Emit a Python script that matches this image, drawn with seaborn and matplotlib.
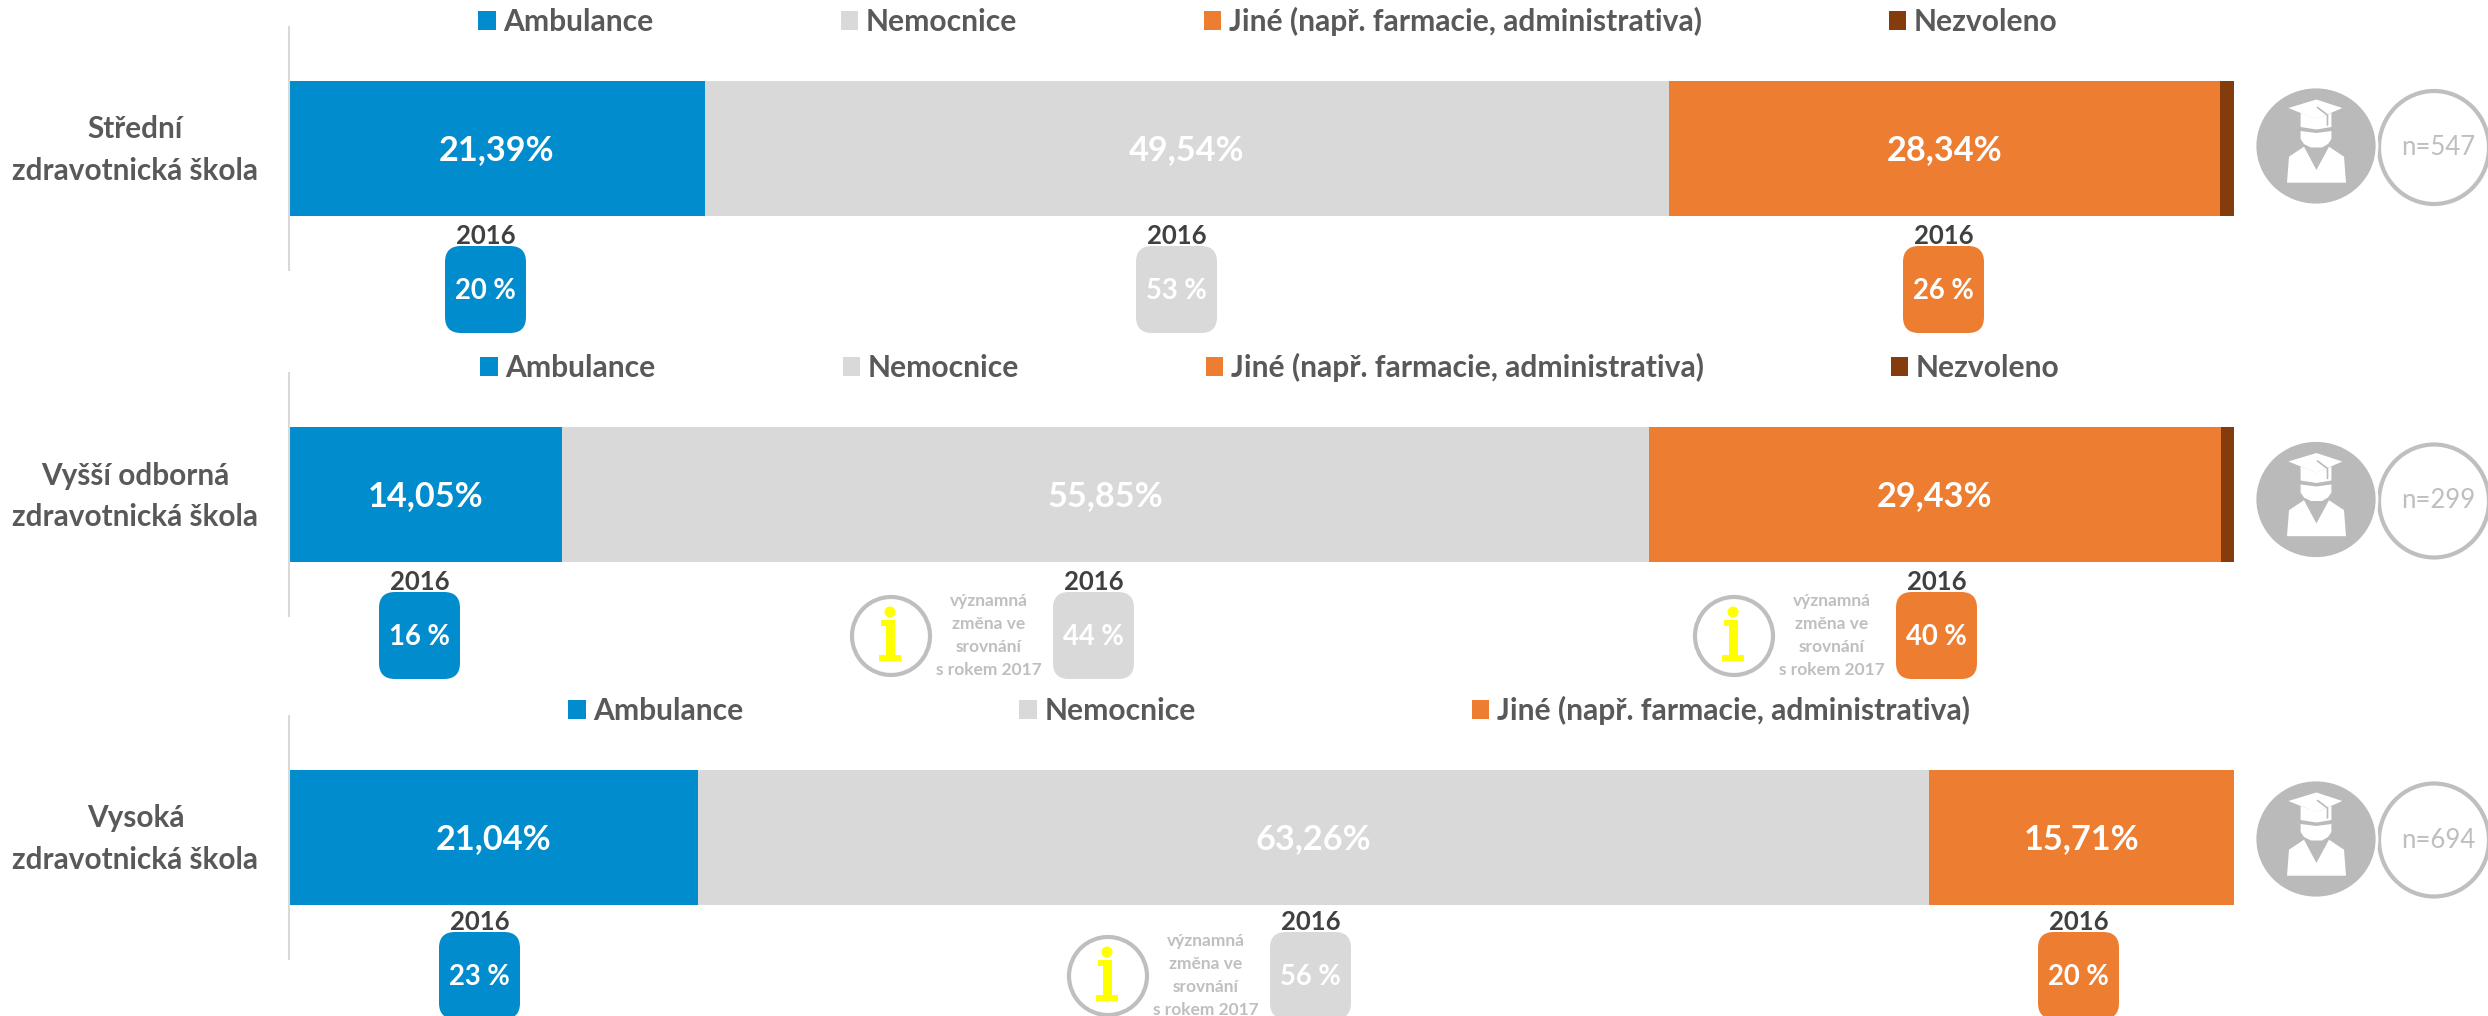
import numpy as np
import matplotlib
matplotlib.use("Agg")
import matplotlib.pyplot as plt
from matplotlib.patches import FancyBboxPatch, Ellipse, Polygon, Rectangle
import seaborn as sns

# ---- data ----
schools = ["Střední\nzdravotnická škola", "Vyšší odborná\nzdravotnická škola", "Vysoká\nzdravotnická škola"]
destinations = ["Ambulance", "Nemocnice", "Jiné (např. farmacie, administrativa)", "Nezvoleno"]
ambulance = [21.39, 14.05, 21.04]
nemocnice = [49.54, 55.85, 63.26]
jine = [28.34, 29.43, 15.71]
nezvoleno = [0.73, 0.67, 0.0]
ambulance_2016 = [20, 16, 23]
nemocnice_2016 = [53, 44, 56]
jine_2016 = [26, 40, 20]
sample_sizes = [547, 299, 694]
year_label = "2016"
note_text = "významná\nzměna ve\nsrovnání\ns rokem 2017"
shown_legend = [4, 4, 3]

# ---- styling / layout (pixels of the 2488x1016 canvas) ----
W, H = 2488, 1016
colors = ["#008ccd", "#d9d9d9", "#ed7d31", "#843c0c"]
FONT = ["Lato", "DejaVu Sans"]
PX = 0.72
bar_center = [148.5, 494.5, 837.5]
legend_cx = [1268, 1270, 1269]
legend_gap = [187, 187, 276]
badge_left = [[445, 1136, 1903], [379, 1053, 1896], [439, 1270, 2038]]
badge_top = [246, 592, 932]
icon_cy = [146, 499.5, 839]
ring_cy = [147.5, 501, 840]
note_badges = [[], [1, 2], [1]]
BADGE_W, BADGE_H = 81, 87

sns.set_theme(style="white")
plt.rcParams["font.family"] = FONT
fig = plt.figure(figsize=(W / 100, H / 100), dpi=100, facecolor="white")

overlay = fig.add_axes([0, 0, 1, 1], zorder=5)
overlay.set_xlim(0, W)
overlay.set_ylim(H, 0)
overlay.axis("off")
overlay.patch.set_alpha(0)


def draw_person(ax, cx, cy):
    ax.add_patch(Ellipse((cx, cy), 122, 118, fc="#bababa", ec="white", lw=2, zorder=3))
    def poly(pts, fc, z=4):
        ax.add_patch(Polygon([(cx + a, cy + b) for a, b in pts], closed=True, fc=fc, ec="none", zorder=z))
    poly([(-27.6, -38), (0.4, -46.5), (26.3, -38), (0.4, -26.7)], "white", 5)
    poly([(-15.4, -33), (0.4, -27), (15.4, -33), (15.4, -19), (0.4, -16.5), (-15.4, -19)], "white")
    poly([(-15.4, -15), (0.4, -13), (15.4, -15), (15.4, -7), (12, -2), (6, 1.5), (-5, 1.5), (-12, -2), (-15.4, -7)], "white")
    poly([(-29, 36.7), (-27, 10.7), (-12, 0.7), (0.4, 24), (13, 0.7), (28, 10.7), (30, 36.7)], "white")
    ax.plot([cx + 1.5, cx + 11.5, cx + 11.5], [cy - 38.5, cy - 31, cy - 21], color="#bababa", lw=1.2, zorder=6)


def draw_info(ax, cx, cy):
    ax.add_patch(Ellipse((cx, cy), 78, 78, fc="none", ec="#bfbfbf", lw=3.0, zorder=3))
    ax.add_patch(Ellipse((cx - 1, cy - 24), 11, 11, fc="#ffff00", ec="none", zorder=4))
    ax.add_patch(Polygon([(cx - 10, cy - 16), (cx + 4, cy - 16), (cx + 4, cy + 19), (cx + 10, cy + 19),
                          (cx + 10, cy + 25), (cx - 12, cy + 25), (cx - 12, cy + 19), (cx - 5, cy + 19),
                          (cx - 5, cy - 10), (cx - 10, cy - 10)], closed=True, fc="#ffff00", ec="none", zorder=4))


series = [ambulance, nemocnice, jine, nezvoleno]
olds = [ambulance_2016, nemocnice_2016, jine_2016]

for i, school in enumerate(schools):
    cy = bar_center[i]
    ax = fig.add_axes([289 / W, 1 - (cy + 121.5) / H, 1945 / W, 243 / H])
    left = 0.0
    for k, name in enumerate(destinations[:shown_legend[i]]):
        val = series[k][i]
        sns.barplot(x=[val], y=[school], color=colors[k], saturation=1, left=left,
                    width=135 / 243, label=name, legend=False, ax=ax, linewidth=0, orient="y")
        cont = ax.containers[-1]
        if k < 3:
            for t in ax.bar_label(cont, labels=[f"{val:.2f}%".replace(".", ",")], label_type="center",
                                  color="white", fontweight="bold", fontsize=24.7, family=FONT):
                t.xyann = (0, -1)
        left += val
    ax.set_xlim(0, 100)
    ax.set_ylim(0.5, -0.5)
    ax.set_xticks([])
    ax.set_xlabel("")
    ax.set_ylabel("")
    ax.set_yticks([-7.5 / 243])
    ax.set_yticklabels([school], fontsize=21.4, fontweight="bold", color="#595959",
                       multialignment="center", linespacing=1.6)
    ax.tick_params(axis="y", length=0, pad=22)
    ax.patch.set_alpha(0)
    sns.despine(ax=ax, left=False, bottom=True)
    ax.spines["left"].set_color("#d9d9d9")
    ax.spines["left"].set_linewidth(1.5)

    h, l = ax.get_legend_handles_labels()
    fs = 21.6
    fpx = fs / PX
    ax.legend(h, l, ncol=len(l), loc="center", frameon=False,
              bbox_to_anchor=(legend_cx[i] / W, 1 - (cy - 127) / H), bbox_transform=fig.transFigure,
              prop={"size": fs, "weight": "bold", "family": FONT}, labelcolor="#595959",
              handlelength=17.5 / fpx, handleheight=18 / fpx, handletextpad=7.5 / fpx,
              columnspacing=legend_gap[i] / fpx, borderpad=0, borderaxespad=0)

    # 2016 badges
    for k in range(3):
        x0 = badge_left[i][k]
        y0 = badge_top[i]
        r = 16
        overlay.add_patch(FancyBboxPatch((x0 + r, y0 + r), BADGE_W - 2 * r, BADGE_H - 2 * r,
                                         boxstyle=f"round,pad={r},rounding_size={r}",
                                         fc=colors[k], ec="none", zorder=3))
        overlay.text(x0 + BADGE_W / 2, y0 + 45, f"{olds[k][i]} %", color="white", fontweight="bold",
                     fontsize=19.8, ha="center", va="center", zorder=4)
        overlay.text(x0 + BADGE_W / 2, y0 - 10.5, year_label, color="#404040", fontweight="bold",
                     fontsize=18.5, ha="center", va="center", zorder=4)
        if k in note_badges[i]:
            draw_info(overlay, x0 - 162, y0 + 44)
            overlay.text(x0 - 64, y0 + 43.5, note_text, color="#bfbfbf", fontweight="bold", fontsize=12.5,
                         ha="center", va="center", linespacing=1.55, multialignment="center", zorder=4)

    # person + sample size
    overlay.add_patch(Ellipse((2434, ring_cy[i]), 110, 113, fc="white", ec="#bfbfbf", lw=3.0, zorder=2))
    draw_person(overlay, 2316, icon_cy[i])
    overlay.text(2438, ring_cy[i], f"n={sample_sizes[i]}", color="#bfbfbf", fontsize=18.5,
                 ha="center", va="center", zorder=4)

fig.savefig("out.png", dpi=100, facecolor="white")
